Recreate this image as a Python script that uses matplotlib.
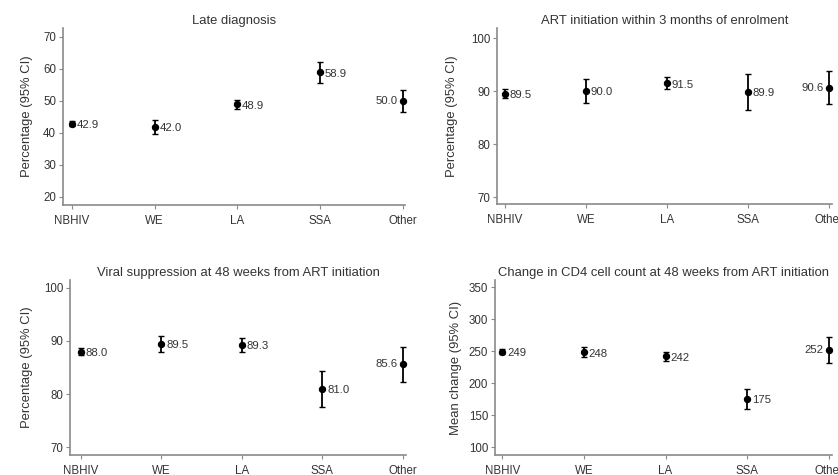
import numpy as np
import matplotlib.pyplot as plt

plt.rcParams['font.family'] = ['Liberation Sans', 'DejaVu Sans']

groups = ['NBHIV', 'WE', 'LA', 'SSA', 'Other']

# late diagnosis, %
late_est = [42.9, 42.0, 48.9, 58.9, 50.0]
late_lo = [42.2, 39.8, 47.5, 55.5, 46.5]
late_hi = [43.6, 44.2, 50.3, 62.3, 53.5]

# ART initiation within 3 months, %
art_est = [89.5, 90.0, 91.5, 89.9, 90.6]
art_lo = [88.7, 87.8, 90.4, 86.5, 87.5]
art_hi = [90.3, 92.2, 92.6, 93.3, 93.7]

# viral suppression at 48 weeks, %
vs_est = [88.0, 89.5, 89.3, 81.0, 85.6]
vs_lo = [87.4, 88.0, 88.0, 77.6, 82.3]
vs_hi = [88.6, 91.0, 90.6, 84.4, 88.9]

# mean CD4 change at 48 weeks
cd4_est = [249, 248, 242, 175, 252]
cd4_lo = [245, 240, 235, 160, 232]
cd4_hi = [253, 256, 249, 190, 272]

W, H = 838, 475
fig = plt.figure(figsize=(W / 100, H / 100), dpi=100)
fig.patch.set_facecolor('white')

txt = '#333333'
grey = '#8a8a8a'


def panel(left, right, top, bottom, xlim, ylim, yticks, est, lo, hi,
          title, ylabel, fmt, ylab_pad):
    ax = fig.add_axes([left / W, 1 - bottom / H, (right - left) / W, (bottom - top) / H])
    x = np.arange(len(groups))
    est = np.array(est, dtype=float)
    err = [est - np.array(lo), np.array(hi) - est]
    ax.errorbar(x, est, yerr=err, fmt='o', color='black', ms=4.3,
                elinewidth=1.3, capsize=2.2, capthick=1.0, clip_on=False)
    for i, v in enumerate(est):
        if groups[i] == 'Other':
            ax.annotate(fmt.format(v), (x[i], v), xytext=(-3.5, 0), textcoords='offset points',
                        ha='right', va='center', fontsize=8.2, color=txt)
        else:
            ax.annotate(fmt.format(v), (x[i], v), xytext=(3.5, -1), textcoords='offset points',
                        ha='left', va='center', fontsize=8.2, color=txt)
    ax.set_xlim(*xlim)
    ax.set_ylim(*ylim)
    ax.set_xticks(x)
    ax.set_xticklabels(groups)
    ax.set_yticks(yticks)
    for s in ['top', 'right']:
        ax.spines[s].set_visible(False)
    for s in ['left', 'bottom']:
        ax.spines[s].set_color(grey)
        ax.spines[s].set_linewidth(1.2)
    ax.tick_params(axis='both', colors=grey, length=3, width=0.8, labelsize=8.3,
                   labelcolor=txt, pad=2)
    ax.tick_params(axis='x', pad=4)
    ax.set_title(title, fontsize=9.4, color=txt, pad=3)
    ax.set_ylabel(ylabel, fontsize=9.4, color=txt, labelpad=ylab_pad)
    return ax


panel(63, 405, 28, 205, (-0.11, 4.03), (17.5, 72.8), [20, 30, 40, 50, 60, 70],
      late_est, late_lo, late_hi, 'Late diagnosis', 'Percentage (95% CI)', '{:.1f}', 7)
panel(497, 832, 28, 204, (-0.1, 4.04), (68.7, 101.9), [70, 80, 90, 100],
      art_est, art_lo, art_hi, 'ART initiation within 3 months of enrolment',
      'Percentage (95% CI)', '{:.1f}', 9)
panel(70, 406, 280, 455, (-0.137, 4.04), (68.5, 101.5), [70, 80, 90, 100],
      vs_est, vs_lo, vs_hi, 'Viral suppression at 48 weeks from ART initiation',
      'Percentage (95% CI)', '{:.1f}', 8)
panel(495, 832, 280, 455, (-0.09, 4.04), (87.5, 361), [100, 150, 200, 250, 300, 350],
      cd4_est, cd4_lo, cd4_hi, 'Change in CD4 cell count at 48 weeks from ART initiation',
      'Mean change (95% CI)', '{:.0f}', 5)

fig.savefig('out.png', dpi=100, facecolor='white')
